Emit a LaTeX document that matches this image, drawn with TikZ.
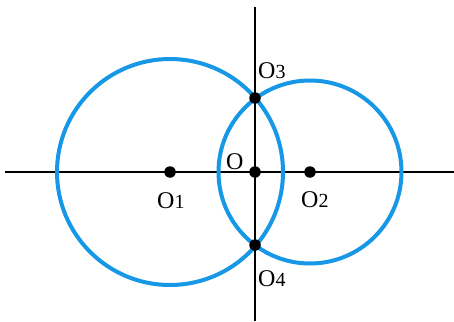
\documentclass[tikz,border=0pt]{standalone}
\usepackage{fontspec}
\setmainfont{Liberation Serif}
\definecolor{cblue}{RGB}{22,152,230}
\newcommand{\mysub}[1]{{\fontsize{20}{20}\selectfont #1}}
\begin{document}
\begin{tikzpicture}[x=1pt,y=-1pt,
  axis/.style={line width=2.6pt,black},
  circ/.style={line width=4pt,cblue},
  dot/.style={circle,fill=black,inner sep=0pt,minimum size=11.5pt},
  lbl/.style={anchor=base west,inner sep=0pt,font=\fontsize{24}{24}\selectfont}]
\useasboundingbox (0,0) rectangle (454,321);
\fill[white] (0,0) rectangle (454,321);
\coordinate (L) at (5,172);
\coordinate (R) at (454,172);
\coordinate (T) at (255,7);
\coordinate (B) at (255,321);
\coordinate (c1) at (170,172);
\coordinate (c2) at (310,172);
\draw[axis] (L) -- (R);
\draw[axis] (T) -- (B);
\draw[circ] (c1) circle[radius=113];
\draw[circ] (c2) circle[radius=91.5];
\node[dot] (o1) at (c1) {};
\node[dot] (o2) at (c2) {};
\node[dot] (o) at (255,172) {};
\node[dot] (o3) at (255,98) {};
\node[dot] (o4) at (255,245) {};
\node[lbl] (lo) at (226,169) {O};
\node[lbl] (lo1) at (157,208) {O\mysub{1}};
\node[lbl] (lo2) at (301,207) {O\mysub{2}};
\node[lbl] (lo3) at (258,78) {O\mysub{3}};
\node[lbl] (lo4) at (258,286) {O\mysub{4}};
\end{tikzpicture}
\end{document}
